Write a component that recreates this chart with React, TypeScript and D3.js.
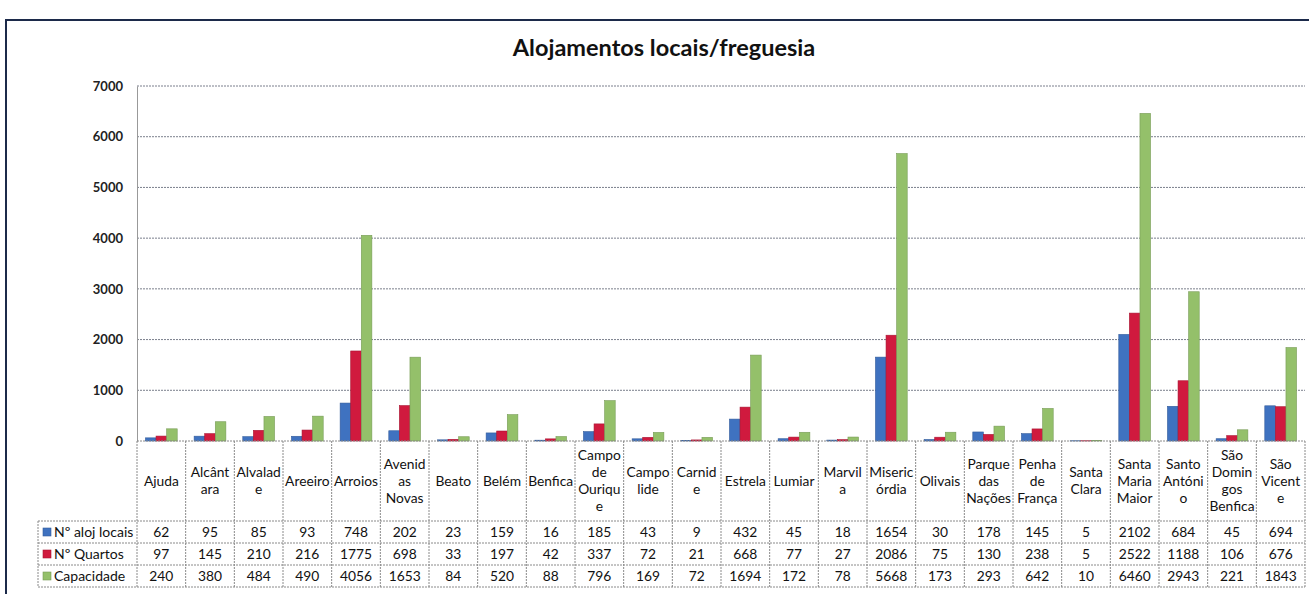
import React, { useEffect, useRef } from 'react';
import * as d3 from 'd3';

// freguesias (labels already wrapped as in the picture)
const categories = [
  ['Ajuda'], ['Alcânt', 'ara'], ['Alvalad', 'e'], ['Areeiro'], ['Arroios'],
  ['Avenid', 'as', 'Novas'], ['Beato'], ['Belém'], ['Benfica'],
  ['Campo', 'de', 'Ouriqu', 'e'], ['Campo', 'lide'], ['Carnid', 'e'], ['Estrela'],
  ['Lumiar'], ['Marvil', 'a'], ['Miseric', 'órdia'], ['Olivais'],
  ['Parque', 'das', 'Nações'], ['Penha', 'de', 'França'], ['Santa', 'Clara'],
  ['Santa', 'Maria', 'Maior'], ['Santo', 'Antóni', 'o'], ['São', 'Domin', 'gos', 'Benfica'],
  ['São', 'Vicent', 'e'],
];

const seriesNames = ['Nº aloj locais', 'Nº Quartos', 'Capacidade'];
const seriesColors = ['#3f72c0', '#d01a3e', '#94c06a'];

const alojLocais = [62, 95, 85, 93, 748, 202, 23, 159, 16, 185, 43, 9, 432, 45, 18, 1654, 30, 178, 145, 5, 2102, 684, 45, 694];
const quartos = [97, 145, 210, 216, 1775, 698, 33, 197, 42, 337, 72, 21, 668, 77, 27, 2086, 75, 130, 238, 5, 2522, 1188, 106, 676];
const capacidade = [240, 380, 484, 490, 4056, 1653, 84, 520, 88, 796, 169, 72, 1694, 172, 78, 5668, 173, 293, 642, 10, 6460, 2943, 221, 1843];

const yTicks = [0, 1000, 2000, 3000, 4000, 5000, 6000, 7000];

const W = 1309;
const H = 594;

export default function App() {
  const ref = useRef<SVGSVGElement>(null);

  useEffect(() => {
    const svg = d3.select(ref.current);
    svg.selectAll('*').remove();
    const font = 'Lato, "Open Sans", sans-serif';
    const series = [alojLocais, quartos, capacidade];
    const fs = 13.8;

    const left = 137, right = 1305, top = 86, bottom = 441;
    const headBottom = 521, rowH = 22, legendLeft = 38;

    const x = d3.scaleBand<number>().domain(d3.range(categories.length)).range([left, right]);
    const xs = d3.scaleBand<number>().domain([0, 1, 2]).range([0, x.bandwidth()]).paddingInner(0).paddingOuter(0.8);
    const y = d3.scaleLinear().domain([0, 7000]).range([bottom, top]);

    // outer frame
    svg.append('rect').attr('x', 6).attr('y', 20).attr('width', W + 10).attr('height', H)
      .attr('fill', 'white').attr('stroke', '#1c2a4a').attr('stroke-width', 2);

    svg.append('text').attr('x', 664).attr('y', 56).attr('text-anchor', 'middle')
      .attr('font-family', font).attr('font-weight', 'bold').attr('font-size', 23.5)
      .attr('fill', '#111').text('Alojamentos locais/freguesia');

    // gridlines
    svg.append('g').selectAll('line').data(yTicks.filter(t => t > 0)).join('line')
      .attr('x1', left).attr('x2', right).attr('y1', d => y(d)).attr('y2', d => y(d))
      .attr('stroke', '#7a7f8c').attr('stroke-width', 1).attr('stroke-dasharray', '2,1');

    // y axis
    const yAxis = svg.append('g').attr('transform', `translate(${left},0)`)
      .call(d3.axisLeft(y).tickValues(yTicks).tickSize(0).tickPadding(14).tickFormat(d3.format('d')));
    yAxis.select('.domain').attr('stroke', '#999');
    yAxis.selectAll('text').attr('font-family', font).attr('font-size', 13)
      .attr('font-weight', 'bold').attr('fill', '#222');

    // bars
    series.forEach((vals, si) => {
      svg.append('g').selectAll('rect').data(vals).join('rect')
        .attr('x', (_, i) => (x(i) as number) + (xs(si) as number))
        .attr('y', d => y(d))
        .attr('width', xs.bandwidth())
        .attr('height', d => bottom - y(d))
        .attr('fill', seriesColors[si])
        .attr('stroke', d3.color(seriesColors[si])!.darker(0.6).toString())
        .attr('stroke-width', 0.6);
    });

    // data table
    const grid = svg.append('g').attr('stroke', '#8a8a8a').attr('stroke-width', 1).attr('stroke-dasharray', '2,1');
    const tableBottom = headBottom + rowH * 3;
    grid.append('line').attr('x1', left).attr('x2', right).attr('y1', bottom).attr('y2', bottom);
    d3.range(4).forEach(r => {
      grid.append('line').attr('x1', legendLeft).attr('x2', right)
        .attr('y1', headBottom + r * rowH).attr('y2', headBottom + r * rowH);
    });
    grid.append('line').attr('x1', legendLeft).attr('x2', legendLeft).attr('y1', headBottom).attr('y2', tableBottom);
    d3.range(categories.length + 1).forEach(i => {
      const xx = i < categories.length ? (x(i) as number) : right;
      grid.append('line').attr('x1', xx).attr('x2', xx).attr('y1', bottom).attr('y2', tableBottom);
    });

    // category labels
    const headMid = (bottom + headBottom) / 2;
    const lineH = 17;
    svg.append('g').selectAll('text').data(categories).join('text')
      .attr('font-family', font).attr('font-size', fs).attr('fill', '#111').attr('text-anchor', 'middle')
      .each(function (lines, i) {
        const t = d3.select(this);
        const cx = (x(i) as number) + x.bandwidth() / 2;
        const y0 = headMid - ((lines.length - 1) * lineH) / 2 + 4.5;
        lines.forEach((ln, k) => {
          t.append('tspan').attr('x', cx).attr('y', y0 + k * lineH).text(ln);
        });
      });

    // legend keys + values
    series.forEach((vals, si) => {
      const cy = headBottom + si * rowH + rowH / 2;
      svg.append('rect').attr('x', legendLeft + 5).attr('y', cy - 4).attr('width', 8).attr('height', 8)
        .attr('fill', seriesColors[si]).attr('stroke', d3.color(seriesColors[si])!.darker(0.6).toString()).attr('stroke-width', 0.6);
      svg.append('text').attr('x', legendLeft + 16).attr('y', cy + 5)
        .attr('font-family', font).attr('font-size', 14).attr('fill', '#111').text(seriesNames[si]);
      svg.append('g').selectAll('text').data(vals).join('text')
        .attr('x', (_, i) => (x(i) as number) + x.bandwidth() / 2).attr('y', cy + 5)
        .attr('text-anchor', 'middle').attr('font-family', font).attr('font-size', fs).attr('fill', '#111')
        .text(d => d);
    });
  }, []);

  return (
    <svg ref={ref} width={W} height={H}
      style={{ position: 'absolute', left: 0, top: 0, display: 'block', background: 'white' }} />
  );
}
